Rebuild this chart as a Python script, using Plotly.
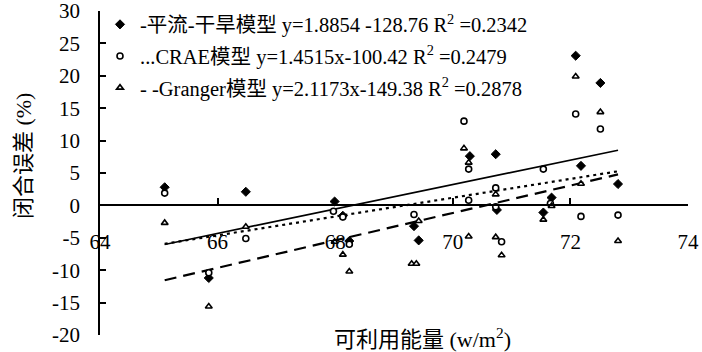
import plotly.graph_objects as go

# Axis ticks
x_ticks = [64, 66, 68, 70, 72, 74]
y_ticks = [-20, -15, -10, -5, 0, 5, 10, 15, 20, 25, 30]

# Closure error (%) against available energy (w/m2) for each model
adv_x = [65.10, 65.85, 66.48, 67.99, 68.13, 68.24, 69.34, 69.42, 70.29, 70.73,
         70.75, 71.54, 71.68, 72.09, 72.18, 72.51, 72.81]
adv_y = [2.8, -11.2, 2.1, 0.6, -1.6, -5.5, -3.2, -5.4, 7.6, 7.9,
         -0.7, -1.1, 1.2, 23.1, 6.1, 18.9, 3.3]

crae_x = [65.10, 65.85, 66.48, 67.97, 68.13, 68.24, 69.34, 70.19, 70.27, 70.27,
          70.73, 70.73, 70.83, 71.54, 71.66, 72.09, 72.18, 72.51, 72.81]
crae_y = [1.9, -10.4, -5.1, -0.9, -1.8, -6.0, -1.4, 13.0, 5.6, 0.8,
          2.7, -0.2, -5.6, 5.6, 0.3, 14.1, -1.7, 11.8, -1.5]

gr_x = [65.10, 65.85, 66.48, 67.99, 68.13, 68.24, 69.30, 69.38, 69.42, 70.19,
        70.27, 70.27, 70.73, 70.73, 70.83, 71.54, 71.68, 72.09, 72.18, 72.51, 72.81]
gr_y = [-2.7, -15.6, -3.3, -5.6, -7.6, -10.2, -9.0, -9.0, -2.4, 8.8,
        6.6, -4.8, 1.7, -4.9, -7.7, -2.2, -0.1, 19.9, 3.35, 14.4, -5.5]

# Linear fits y = a*x + b and their R^2
slopes = [1.8854, 1.4515, 2.1173]
intercepts = [-128.76, -100.42, -149.38]
r_squared = ["0.2342", "0.2479", "0.2878"]

labels = [
    "-平流-干旱模型 y=1.8854 -128.76 R<sup>2</sup> =" + r_squared[0],
    "...CRAE模型 y=1.4515x-100.42 R<sup>2</sup> =" + r_squared[1],
    "- -Granger模型 y=2.1173x-149.38 R<sup>2</sup> =" + r_squared[2],
]

FONT = "Liberation Serif, Noto Sans CJK SC, serif"
FS = 21
LEGEND_FS = 20.5
TITLE_FS = 22

series = [
    (adv_x, adv_y, dict(symbol="diamond", size=7, color="black",
                        line=dict(color="black", width=1)), "solid"),
    (crae_x, crae_y, dict(symbol="circle", size=6, color="white",
                          line=dict(color="black", width=1.6)), "3px,4px"),
    (gr_x, gr_y, dict(symbol="triangle-up", size=6, color="white",
                      line=dict(color="black", width=1.6)), "12px,7px"),
]

fig = go.Figure()

# Trend lines over the span of each series
for i, (xs, ys, mk, dash) in enumerate(series):
    x0, x1 = min(xs), max(xs)
    fig.add_trace(go.Scatter(
        x=[x0, x1],
        y=[slopes[i] * x0 + intercepts[i], slopes[i] * x1 + intercepts[i]],
        mode="lines",
        line=dict(color="black", width=1.6 if dash == "solid" else 2.2, dash=dash),
        showlegend=False, hoverinfo="skip",
    ))

for i, (xs, ys, mk, dash) in enumerate(series):
    fig.add_trace(go.Scatter(
        x=xs, y=ys, mode="markers", marker=mk,
        name=labels[i], legendgroup=f"g{i}",
    ))

fig.update_layout(
    width=702, height=352,
    margin=dict(l=100, r=14, t=11, b=17, autoexpand=False),
    paper_bgcolor="white", plot_bgcolor="white",
    font=dict(family=FONT, size=FS, color="black"),
    showlegend=True,
    legend=dict(
        x=0.0, y=1.02, xanchor="left", yanchor="top",
        bgcolor="rgba(0,0,0,0)", borderwidth=0,
        traceorder="grouped", tracegroupgap=2,
        font=dict(family=FONT, size=LEGEND_FS, color="black"),
    ),
    xaxis=dict(
        range=[64, 74], tickvals=x_ticks, ticktext=[str(v) for v in x_ticks],
        showgrid=False, zeroline=False, automargin=False,
        showline=True, linecolor="black", linewidth=1.6,
        ticks="inside", ticklen=7, tickwidth=1.6, tickcolor="black",
        anchor="free", position=0.4, ticklabelstandoff=18,
        ticklabeloverflow="allow",
    ),
    yaxis=dict(
        range=[-20, 30], tickvals=y_ticks, ticktext=[str(v) for v in y_ticks],
        showgrid=False, zeroline=False, automargin=False,
        showline=True, linecolor="black", linewidth=1.6,
        ticks="inside", ticklen=6, tickwidth=1.6, tickcolor="black",
        ticklabelstandoff=14, ticklabeloverflow="allow",
    ),
    annotations=[
        dict(text="可利用能量 (w/m<sup>2</sup>)", xref="paper", yref="paper",
             x=0.548, y=-0.01, xanchor="center", yanchor="middle",
             showarrow=False, font=dict(family=FONT, size=TITLE_FS)),
        dict(text="闭合误差 (%)", xref="paper", yref="paper",
             x=-0.131, y=0.552, xanchor="center", yanchor="middle",
             textangle=-90, showarrow=False, font=dict(family=FONT, size=TITLE_FS)),
    ],
)

fig.write_html("out.html")
